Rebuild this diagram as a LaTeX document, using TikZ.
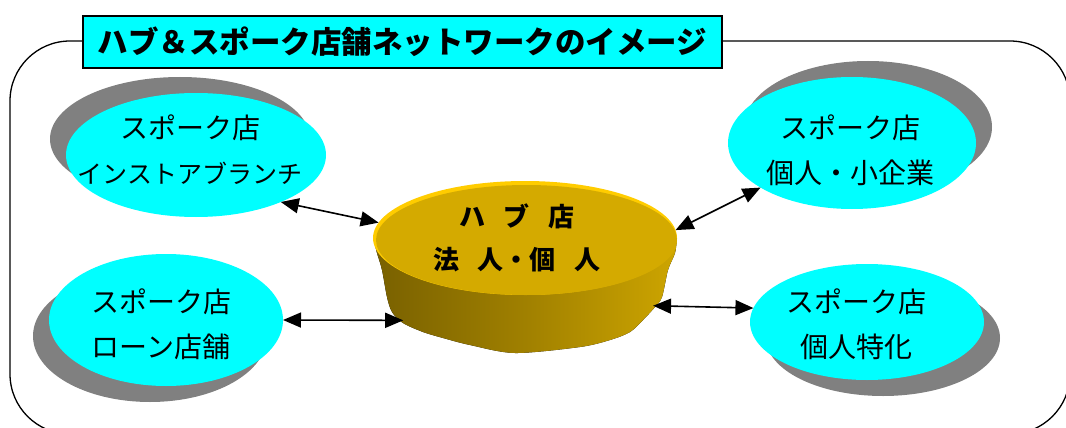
\documentclass[tikz,border=0pt]{standalone}
\usepackage{fontspec}
\newfontfamily\jp{Noto Sans CJK JP}
\usetikzlibrary{shapes.geometric,arrows.meta}
\definecolor{spoke}{RGB}{0,255,255}
\definecolor{shadowgray}{RGB}{128,128,128}
\definecolor{hubtopc}{RGB}{212,170,0}
\definecolor{hubrim}{RGB}{255,204,0}
\definecolor{hubdark}{RGB}{120,96,0}
\definecolor{hubmid}{RGB}{160,128,0}
\definecolor{hublight}{RGB}{205,165,0}
\begin{document}
\begin{tikzpicture}[x=1pt,y=-1pt,
  frame/.style={draw=black,line width=1.3pt,rounded corners=60pt},
  titlebox/.style={draw=black,line width=1.4pt,fill=spoke,inner sep=0pt,
     minimum width=639pt,minimum height=52pt,
     font=\jp\bfseries\fontsize{30.5}{32}\selectfont},
  shadowell/.style={ellipse,fill=shadowgray,inner sep=0pt,outer sep=0pt},
  spokeell/.style={ellipse,fill=spoke,inner sep=0pt,outer sep=0pt},
  spoketext/.style={align=center,inner sep=0pt,font=\jp\fontsize{28}{45}\selectfont},
  hubtext/.style={align=center,inner sep=0pt,font=\jp\bfseries\fontsize{26}{43}\selectfont},
  conn/.style={line width=1.6pt,{Triangle[length=18pt,width=15pt]}-{Triangle[length=18pt,width=15pt]}}
]
\useasboundingbox (0,0) rectangle (1066,428);
\clip (0,0) rectangle (1066,428);
% outer frame
\draw[frame] (10,41) rectangle (1070,434);
% title
\node[titlebox] (title) at (402.5,42) {ハブ＆スポーク店舗ネットワークのイメージ\hspace{18pt}};
% shadows
\node[shadowell,minimum width=260pt,minimum height=124pt] (tls) at (180,139) {};
\node[shadowell,minimum width=248pt,minimum height=132pt] (trs) at (868,127) {};
\node[shadowell,minimum width=234pt,minimum height=132pt] (bls) at (150,336) {};
\node[shadowell,minimum width=234pt,minimum height=116pt] (brs) at (883,338) {};
% spoke ellipses
\node[spokeell,minimum width=260pt,minimum height=124pt] (tl) at (196,155) {};
\node[spokeell,minimum width=248pt,minimum height=132pt] (tr) at (852,143) {};
\node[spokeell,minimum width=234pt,minimum height=132pt] (bl) at (166,320) {};
\node[spokeell,minimum width=234pt,minimum height=116pt] (br) at (867,322) {};
% spoke texts
\node[spoketext] (tlt) at (190,150) {スポーク店\\{\fontsize{25}{45}\selectfont インストアブランチ}};
\node[spoketext] (trt) at (850,150) {スポーク店\\個人・小企業};
\node[spoketext] (blt) at (161,324) {スポーク店\\ローン店舗};
\node[spoketext] (brt) at (856,324) {スポーク店\\個人特化};
% hub body
\fill[left color=hubdark,right color=hublight,middle color=hubmid]
  plot[smooth,tension=0.5] coordinates {(373,237) (377,253) (382,270) (387,297) (392,312) (403,323)
   (423,332) (443,338) (470,345) (515,353) (580,347) (610,340) (630,332) (643,320)
   (655,307) (662,297) (668,270) (675,253) (677,238)} -- cycle;
\node[ellipse,inner sep=0pt,outer sep=0pt,minimum width=260.6pt,minimum height=170.8pt] (hubbody) at (525,290) {};
% hub top
\node[ellipse,fill=hubrim,inner sep=0pt,outer sep=0pt,minimum width=304pt,minimum height=114pt] (hubtop) at (525,238) {};
\fill[hubtopc] (526.5,240) ellipse [x radius=150.5, y radius=55];
\node[hubtext] (hubt) at (517,238) {ハ\hspace{.7em}ブ\hspace{.7em}店\\法\hspace{.7em}人・個\hspace{.7em}人};
% connectors
\draw[conn] (tl.-29) -- (hubtop.174);
\draw[conn] (bl.0) -- (hubbody.194);
\draw[conn] (hubtop.3) -- (tr.206);
\draw[conn] (hubbody.-7) -- (br.173);
\end{tikzpicture}
\end{document}
